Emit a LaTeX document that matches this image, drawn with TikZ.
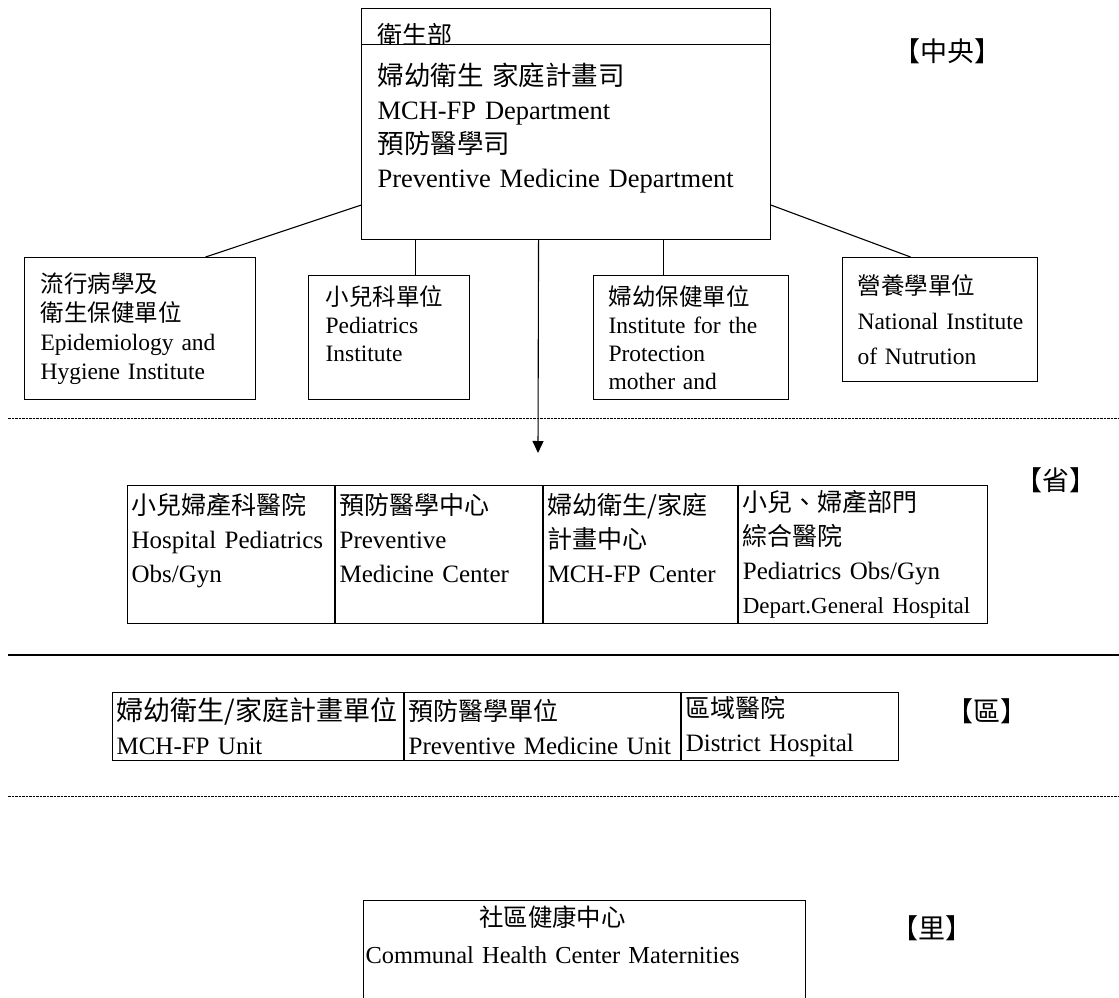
\documentclass[tikz,border=0pt]{standalone}
\usepackage{fontspec}
\setmainfont{Liberation Serif}
\newfontfamily\cjk{Noto Sans CJK TC}
\newcommand{\zh}[1]{{\cjk #1}}
\hyphenpenalty=10000
\exhyphenpenalty=10000
\usetikzlibrary{positioning}
\usetikzlibrary{arrows.meta}
\tikzset{unitbox/.style = {draw, anchor=north west, align=left, inner ysep=0pt, line width=1.1pt}}
\tikzset{cellbox/.style = {draw, anchor=north west, align=left, inner xsep=4pt, inner ysep=0pt, line width=1.1pt, font=\fontsize{25}{34}\selectfont}}
\tikzset{lvltag/.style = {inner sep=0pt, font=\cjk\fontsize{27}{27}\selectfont}}
\tikzset{sepline/.style = {line width=0.8pt, dash pattern=on 2.5pt off 1pt}}

\begin{document}
\begin{tikzpicture}[x=1pt, y=-1pt, line width=1.1pt]
      \useasboundingbox (0,0) rectangle (1119,998);
      \clip (0,0) rectangle (1119,998);

      \node[unitbox, text width=377pt, inner xsep=16pt, minimum height=36pt, font=\cjk\fontsize{25}{25}\selectfont] (moh) at (361,8) {\raisebox{-18pt}[0pt][0pt]{衛生部}};
      \node[unitbox, fill=white, text width=377pt, inner xsep=16pt, minimum height=195pt, font=\fontsize{26.5}{34}\selectfont] (dept) at (361,44) {\zh{婦幼衛生 家庭計畫司}\\MCH-FP Department\\\zh{預防醫學司}\\Preventive Medicine Department\\~};

      \node[unitbox, text width=199pt, inner xsep=16pt, minimum height=142pt, font=\fontsize{23.5}{29}\selectfont] (epi) at (24,257) {\zh{流行病學及}\\\zh{衛生保健單位}\\Epidemiology and\\Hygiene Institute};
      \node[unitbox, text width=127pt, inner xsep=17pt, minimum height=124pt, font=\fontsize{23.5}{28}\selectfont] (ped) at (308,275) {\zh{小兒科單位}\\Pediatrics\\Institute\\~};
      \node[unitbox, text width=171pt, inner xsep=12pt, minimum height=124pt, font=\fontsize{23.5}{28}\selectfont] (mch) at (593,275) {\hspace*{3pt}\zh{婦幼保健單位}\\\hspace*{3pt}Institute for the\\\hspace*{3pt}Protection\\\hspace*{3pt}mother and};
      \node[unitbox, text width=171pt, inner xsep=12pt, minimum height=124pt, font=\fontsize{23.5}{35}\selectfont] (nut) at (842,257) {\hspace*{3pt}\zh{營養學單位}\\\hspace*{3pt}National Institute\\\hspace*{3pt}of Nutrution};

      \draw ([yshift=35pt]dept.south west) -- ([xshift=65.5pt]epi.north);
      \draw ([yshift=35pt]dept.south east) -- ([xshift=-29.5pt]nut.north);
      \coordinate (pedtop) at ([xshift=26.5pt]ped.north);
      \coordinate (mchtop) at ([xshift=-27.5pt]mch.north);
      \draw (pedtop) -- (pedtop |- dept.south);
      \draw (mchtop) -- (mchtop |- dept.south);
      \coordinate (arrtop) at ([xshift=-27.5pt]dept.south);
      \coordinate (arrtip) at (538,453);
      \draw[-{Triangle[length=12pt,width=11pt]}] (arrtop) -- (arrtip);

      \draw[sepline] (8,418) -- (1119,418);
      \draw (8,655) -- (1119,655);
      \draw[sepline] (8,796) -- (1119,796);

      \node[cellbox, text width=199pt, minimum height=138pt] (prov1) at (127,485) {\zh{小兒婦產科醫院}\\Hospital Pediatrics\\Obs/Gyn\\~};
      \node[cellbox, text width=199pt, minimum height=138pt, right=0pt of prov1] (prov2) {\zh{預防醫學中心}\\Preventive\\Medicine Center\\~};
      \node[cellbox, text width=186pt, minimum height=138pt, right=0pt of prov2] (prov3) {\zh{婦幼衛生/家庭}\\\zh{計畫中心}\\MCH-FP Center\\~};
      \node[cellbox, text width=241pt, minimum height=138pt, right=0pt of prov3] (prov4) {\zh{小兒、婦產部門}\\\zh{綜合醫院}\\Pediatrics Obs/Gyn\\{\fontsize{23}{34}\selectfont Depart.General Hospital}};

      \node[cellbox, text width=283pt, minimum height=68pt] (dist1) at (112,692) {{\fontsize{27}{34}\selectfont\zh{婦幼衛生/家庭計畫單位}}\\MCH-FP Unit};
      \node[cellbox, text width=268pt, minimum height=68pt, right=0pt of dist1] (dist2) {\zh{預防醫學單位}\\Preventive Medicine Unit};
      \node[cellbox, text width=209pt, minimum height=68pt, right=0pt of dist2] (dist3) {\zh{區域醫院}\\District Hospital};

      \node[unitbox, text width=438pt, inner xsep=2pt, font=\fontsize{24.4}{37}\selectfont] (comm) at (363,900) {\noindent\begin{tabular}{@{}c@{}}\zh{社區健康中心}\\Communal Health Center Maternities\\ \\ \end{tabular}};

      \node[lvltag] (lvlcen) at (947,51) {【中央】};
      \node[lvltag] (lvlprov) at (1056,480) {【省】};
      \node[lvltag] (lvldist) at (987,711) {【區】};
      \node[lvltag] (lvlvil) at (932,928) {【里】};
\end{tikzpicture}
\end{document}
